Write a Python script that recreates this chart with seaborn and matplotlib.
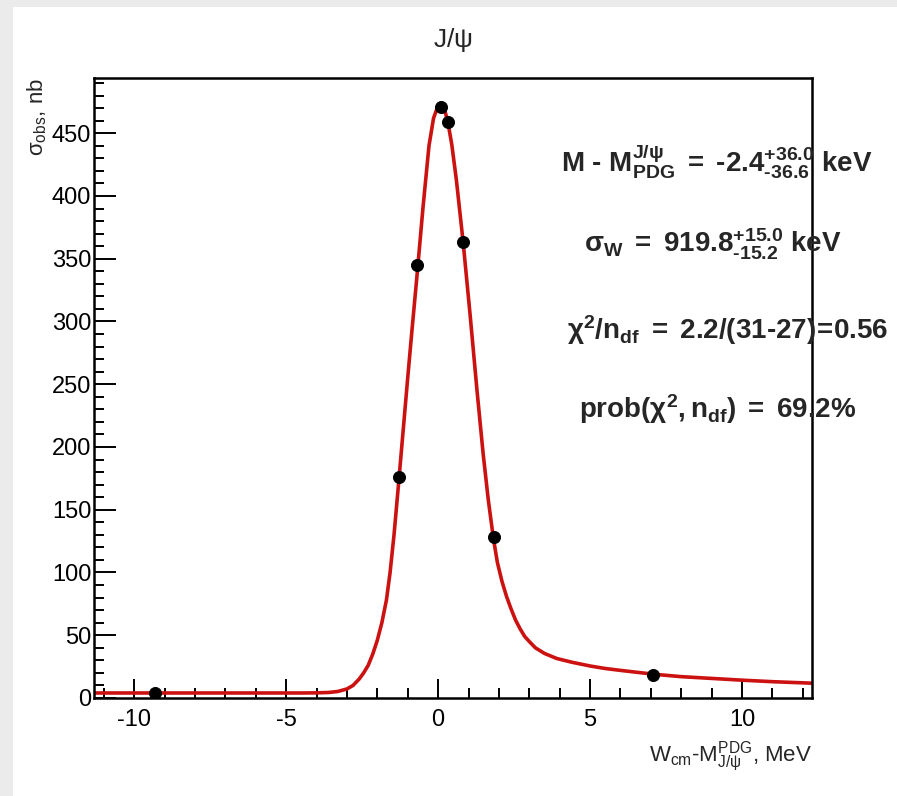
import matplotlib
matplotlib.use('Agg')
import matplotlib.pyplot as plt
from matplotlib.patches import Rectangle
from matplotlib.ticker import MultipleLocator
import seaborn as sns
import pandas as pd

# measured cross section points
point_x = [-9.31, -1.30, -0.69, 0.08, 0.31, 0.83, 1.83, 7.08]
point_y = [3.7, 176, 345, 471, 459, 363, 128, 18]

# fit curve
curve_x = [-11.3, -10.0, -9.0, -8.0, -7.0, -6.0, -5.0, -4.5, -4.0, -3.6, -3.3, -3.0,
           -2.8, -2.6, -2.45, -2.3, -2.15, -2.0, -1.85, -1.7, -1.58, -1.45, -1.3,
           -1.15, -1.0, -0.86, -0.7, -0.5, -0.3, -0.15, 0.0, 0.1, 0.2, 0.32, 0.45,
           0.6, 0.82, 1.05, 1.28, 1.48, 1.65, 1.82, 1.95, 2.1, 2.25, 2.4, 2.55, 2.7,
           2.85, 3.0, 3.2, 3.5, 3.9, 4.4, 5.0, 5.5, 6.0, 7.07, 8.0, 9.0, 10.0, 11.0, 12.3]
curve_y = [4.0, 4.0, 4.0, 4.0, 4.0, 4.0, 4.0, 4.0, 4.1, 4.4, 5.2, 7.2,
           10, 15, 20, 26, 35, 46, 60, 78, 100, 130, 171,
           213, 255, 293, 335, 390, 440, 462, 472, 474, 470, 459, 441,
           413, 364, 306, 245, 195, 158, 127, 108, 93, 81, 71, 62, 55,
           49, 45, 40, 35.5, 31.5, 28.5, 25.5, 23.5, 22, 19, 17, 15.6, 14.2, 13.0, 11.8]

pts = pd.DataFrame({'x': point_x, 'y': point_y})
fit = pd.DataFrame({'x': curve_x, 'y': curve_y})

sns.set_style('ticks')
plt.rcParams['font.family'] = ['Liberation Sans', 'DejaVu Sans']
plt.rcParams['axes.unicode_minus'] = False
plt.rcParams['mathtext.fontset'] = 'custom'
plt.rcParams['mathtext.rm'] = 'Liberation Sans'
plt.rcParams['mathtext.it'] = 'Liberation Sans:italic'
plt.rcParams['mathtext.bf'] = 'Liberation Sans:bold'
plt.rcParams['mathtext.default'] = 'regular'

fig = plt.figure(figsize=(8.97, 7.96), dpi=100, facecolor='#ebebeb')
fig.patches.append(Rectangle((13 / 897, 0), 1, 1 - 7 / 796, transform=fig.transFigure,
                             facecolor='white', edgecolor='none', zorder=-10))
ax = fig.add_axes([94 / 897, 1 - 698 / 796, (812 - 94) / 897, (698 - 78) / 796])

sns.lineplot(data=fit, x='x', y='y', ax=ax, color='#cc1111', lw=2.6, zorder=2)
sns.scatterplot(data=pts, x='x', y='y', ax=ax, color='black', s=75,
                edgecolor='black', zorder=3)

ax.set_xlim(-11.32, 12.3)
ax.set_ylim(0, 494)

ax.xaxis.set_major_locator(MultipleLocator(5))
ax.xaxis.set_minor_locator(MultipleLocator(1))
ax.yaxis.set_major_locator(MultipleLocator(50))
ax.yaxis.set_minor_locator(MultipleLocator(10))
ax.tick_params(which='both', direction='in', top=False, right=False,
               labelsize=17, colors='black', width=1.4)
ax.tick_params(which='major', length=14)
ax.tick_params(which='minor', length=7)
ax.tick_params(axis='y', which='major', length=16)
ax.tick_params(axis='x', pad=8)
ax.tick_params(axis='y', pad=2)
for s in ax.spines.values():
    s.set_visible(True)
    s.set_linewidth(1.8)
    s.set_color('black')

ax.set_xlabel(r'W$_{cm}$-M$^{PDG}_{J/\psi}$, MeV', fontsize=16, loc='right',
              labelpad=6)
ax.set_ylabel(r'$\sigma_{obs}$, nb', fontsize=16, loc='top', labelpad=2)
ax.set_title(r'J/$\psi$', fontsize=19, pad=22)

hy = '\u2010'
ax.text(0.868, 0.866, r'$\mathbf{M\ ' + hy + r'\ M^{J/\psi}_{PDG}\ =\ ' + hy + r'2.4^{+36.0}_{' + hy + r'36.6}\ keV}$',
        transform=ax.transAxes, ha='center', va='center', fontsize=20)
ax.text(0.862, 0.731, r'$\mathbf{\sigma_{W}\ =\ 919.8^{+15.0}_{' + hy + r'15.2}\ keV}$',
        transform=ax.transAxes, ha='center', va='center', fontsize=20)
ax.text(0.882, 0.593, r'$\mathbf{\chi^{2}/n_{df}\ =\ 2.2/(31' + hy + r'27)\!=\!0.56}$',
        transform=ax.transAxes, ha='center', va='center', fontsize=20)
ax.text(0.868, 0.466, r'$\mathbf{prob(\chi^{2},n_{df})\ =\ 69.2\%}$',
        transform=ax.transAxes, ha='center', va='center', fontsize=20)

fig.savefig('out.png', dpi=100, facecolor=fig.get_facecolor())
